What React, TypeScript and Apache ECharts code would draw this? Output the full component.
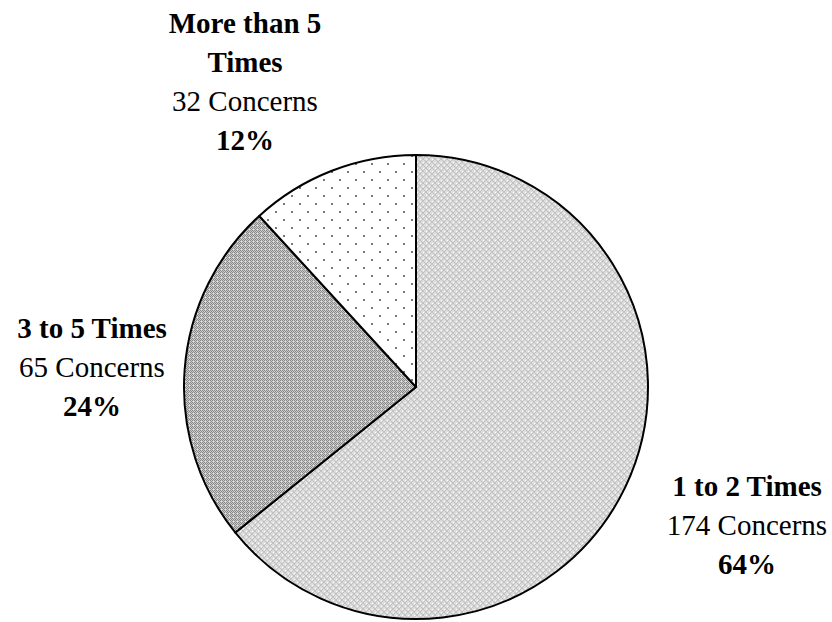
import React, { useEffect, useRef } from "react";
import * as echarts from "echarts";

const categories = ["1 to 2 Times", "3 to 5 Times", "More than 5\nTimes"];
const concerns = [174, 65, 32];
const unitLabel = "Concerns";

const SERIF = "Liberation Serif";

function makeTile(kind: string): HTMLCanvasElement {
  const c = document.createElement("canvas");
  if (kind === "light") {
    const s = 6;
    c.width = s; c.height = s;
    const g = c.getContext("2d")!;
    g.fillStyle = "#dddddd"; g.fillRect(0, 0, s, s);
    g.fillStyle = "#c2c2c2";
    const pts = [[0,0],[1,1],[2,2],[3,3],[4,4],[5,5],[0,5],[1,4],[2,3],[3,2],[4,1],[5,0]];
    pts.forEach(([x, y]) => g.fillRect(x, y, 1, 1));
    g.fillStyle = "#ffffff";
    g.fillRect(0, 3, 1, 1); g.fillRect(3, 0, 1, 1);
  } else if (kind === "dark") {
    const s = 4;
    c.width = s; c.height = s;
    const g = c.getContext("2d")!;
    for (let y = 0; y < s; y++) for (let x = 0; x < s; x++) {
      g.fillStyle = (x + y) % 2 === 0 ? "#888888" : "#cccccc";
      g.fillRect(x, y, 1, 1);
    }
    g.fillStyle = "#e6e6e6"; g.fillRect(1, 1, 1, 1);
  } else {
    const s = 16;
    c.width = s; c.height = s;
    const g = c.getContext("2d")!;
    g.fillStyle = "#ffffff"; g.fillRect(0, 0, s, s);
    g.fillStyle = "#777777";
    g.fillRect(3, 3, 2, 2); g.fillRect(11, 11, 2, 2);
  }
  return c;
}

export default function App() {
  const ref = useRef<HTMLDivElement>(null);
  useEffect(() => {
    document.body.style.margin = "0";
    const chart = echarts.init(ref.current!, null, { renderer: "svg" });
    const total = concerns.reduce((a, b) => a + b, 0);
    const kinds = ["light", "dark", "dots"];
    const tileSizes = [6, 4, 16];
    const labelPos = [[747, 525], [92, 367], [245, 81]];
    const data = categories.map((name, i) => ({
      name,
      value: concerns[i],
      itemStyle: {
        color: { image: makeTile(kinds[i]), repeat: "repeat", imageWidth: tileSizes[i], imageHeight: tileSizes[i] } as any,
      },
    }));
    chart.setOption({
      animation: false,
      backgroundColor: "#ffffff",
      textStyle: { fontFamily: SERIF },
      series: [
        {
          type: "pie",
          center: [416, 387],
          radius: 232,
          startAngle: 90,
          clockwise: true,
          data,
          itemStyle: { borderColor: "#000000", borderWidth: 2 },
          emphasis: { disabled: true },
          labelLine: { show: false },
          label: {
            show: true,
            position: "inside",
            align: "center",
            fontFamily: SERIF,
            fontSize: 29,
            color: "#000",
            formatter: (p: any) => {
              const pct = Math.round((p.value / total) * 100);
              const nameLines = String(p.name).split("\n").map((l) => `{b|${l}}`).join("\n");
              return `${nameLines}\n{n|${p.value} ${unitLabel}}\n{b|${pct}%}`;
            },
            rich: {
              b: { fontFamily: SERIF, fontWeight: "bold", fontSize: 29, lineHeight: 39, color: "#000", align: "center" },
              n: { fontFamily: SERIF, fontWeight: "normal", fontSize: 29, lineHeight: 39, color: "#000", align: "center" },
            },
          },
          labelLayout: (p: any) => ({
            x: labelPos[p.dataIndex][0],
            y: labelPos[p.dataIndex][1],
            align: "center",
            verticalAlign: "middle",
          }),
        },
      ],
    });
    return () => chart.dispose();
  }, []);
  return <div ref={ref} style={{ width: 832, height: 622 }} />;
}
